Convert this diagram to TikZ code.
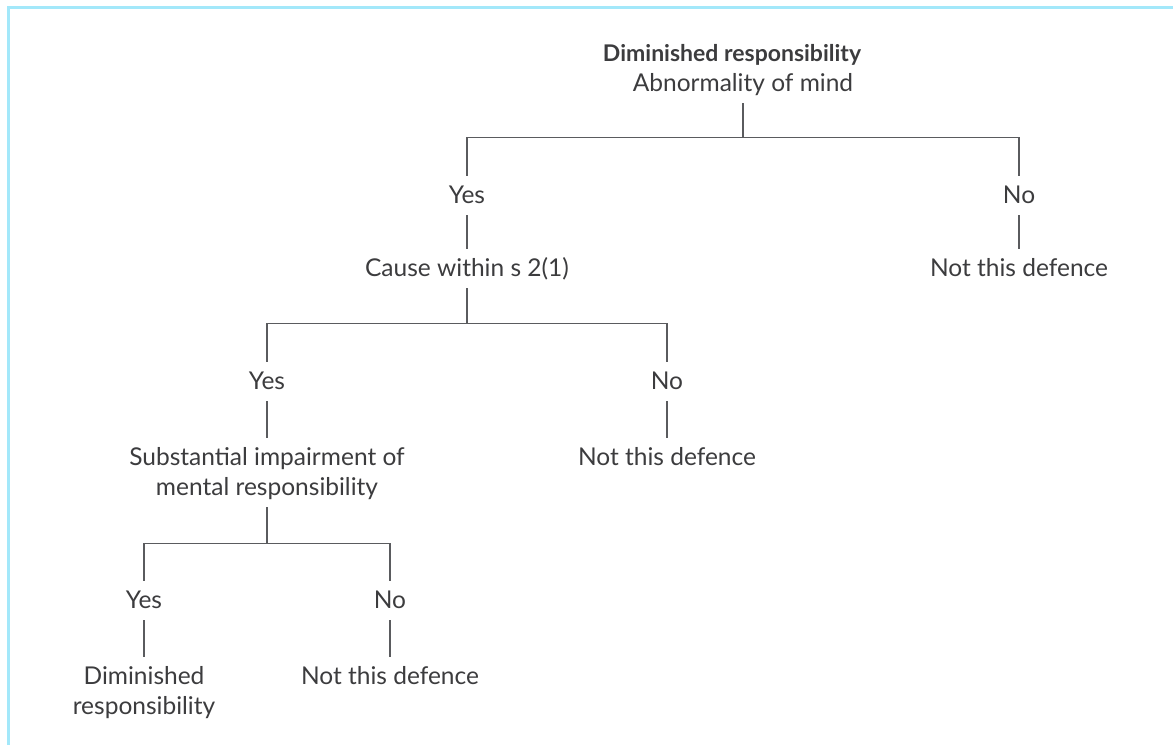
\documentclass[tikz,border=0pt]{standalone}
\usepackage{fontspec}
\setmainfont{Lato}
\definecolor{framecyan}{HTML}{A3E8FA}
\definecolor{linegray}{HTML}{5A5B5E}
\definecolor{textgray}{HTML}{3C3C3E}
% fixed top and bottom of every text line
\newcommand{\lnup}{\rule{0pt}{24pt}}
\newcommand{\lndn}{\rule[-9pt]{0pt}{9pt}}
\tikzset{
	answer/.style={anchor=north,align=center,inner xsep=0pt,inner ysep=3pt,text=textgray,
		font=\fontsize{24.5}{30}\selectfont},
	branch/.style={draw=linegray,line width=1.6pt}
}
\begin{document}
\begin{tikzpicture}[x=1pt,y=1pt]
		\useasboundingbox (0,0) rectangle (1173,-745);
		% frame on top and left
		\draw[framecyan,line width=3pt] (8.5,-745) -- (8.5,-7.5) -- (1173,-7.5);
		% level 0
		\node[answer] (root) at (743,-34) {\lnup{\fontsize{23}{30}\selectfont\bfseries Diminished responsibility}\hspace*{22pt}\\Abnormality of mind\lndn};
		% level 1
		\node[answer] (yesA) at (467,-176) {\lnup Yes\lndn};
		\node[answer] (noA) at (1019,-176) {\lnup No\lndn};
		\node[answer] (cause) at (467,-249) {\lnup Cause within s 2(1)\lndn};
		\node[answer] (notA) at (1019,-249) {\lnup Not this defence\lndn};
		% level 2
		\node[answer] (yesB) at (267,-362) {\lnup Yes\lndn};
		\node[answer] (noB) at (667,-362) {\lnup No\lndn};
		\node[answer] (impair) at (267,-438) {\lnup Substantial impairment of\\mental responsibility\lndn};
		\node[answer] (notB) at (667,-438) {\lnup Not this defence\lndn};
		% level 3
		\node[answer] (yesC) at (144,-581) {\lnup Yes\lndn};
		\node[answer] (noC) at (390,-581) {\lnup No\lndn};
		\node[answer] (dimresp) at (144,-657) {\lnup Diminished\\responsibility\lndn};
		\node[answer] (notC) at (390,-657) {\lnup Not this defence\lndn};
		% branches
		\draw[branch] (root.south) -- ++(0,-34) coordinate (barA) -| (yesA.north) (barA) -| (noA.north);
		\draw[branch] (cause.south) -- ++(0,-35) coordinate (barB) -| (yesB.north) (barB) -| (noB.north);
		\draw[branch] (impair.south) -- ++(0,-36) coordinate (barC) -| (yesC.north) (barC) -| (noC.north);
		\foreach \from/\to in {yesA/cause,noA/notA,yesB/impair,noB/notB,yesC/dimresp,noC/notC}
			\draw[branch] (\from.south) -- (\to.north);
	\end{tikzpicture}
\end{document}
